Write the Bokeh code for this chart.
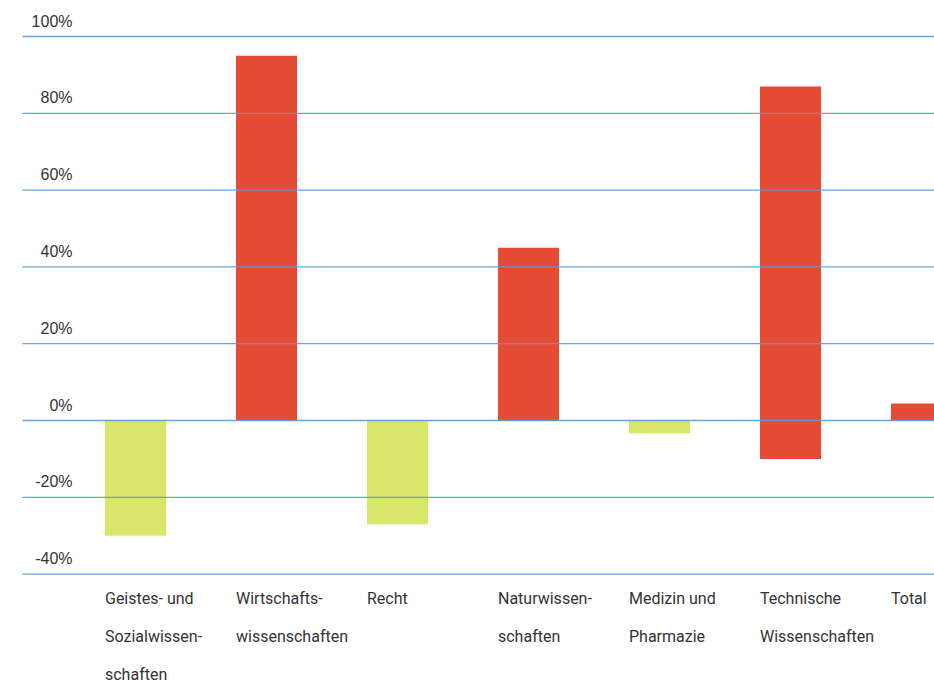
from bokeh.plotting import figure
from bokeh.models import ColumnDataSource, Range1d
from bokeh.core.properties import value
from bokeh.embed import file_html
from bokeh.resources import INLINE

# ---- data ----
categories = ["Geistes- und\nSozialwissen-\nschaften", "Wirtschafts-\nwissenschaften", "Recht",
              "Naturwissen-\nschaften", "Medizin und\nPharmazie", "Technische\nWissenschaften", "Total"]
bar_low = [-30, 0, -27, 0, -3.3, -10, 0]
bar_high = [0, 95, 0, 45, 0, 87, 4.4]
tick_values = [-40, -20, 0, 20, 40, 60, 80, 100]
tick_labels = ["-40%", "-20%", "0%", "20%", "40%", "60%", "80%", "100%"]

RED = "#e64b35"
GREEN = "#d8e76a"
GRID = "#5b9bd5"
TEXT = "#333333"

xs = list(range(len(categories)))
colors = [GREEN if h <= 0 else RED for l, h in zip(bar_low, bar_high)]

p = figure(width=934, height=684, output_backend="svg", toolbar_location=None,
           x_range=Range1d(-135 / 131, 799 / 131), y_range=Range1d(-68.75, 109.375),
           min_border=0, min_border_left=0, min_border_right=0, min_border_top=0, min_border_bottom=0)
p.axis.visible = False
p.grid.visible = False
p.outline_line_color = None
p.background_fill_color = "white"
p.border_fill_color = "white"

src = ColumnDataSource(dict(x=xs, low=bar_low, high=bar_high, color=colors))
p.vbar(x="x", bottom="low", top="high", width=0.466, fill_color="color", line_color=None, source=src)

# gridlines (drawn over bars)
x0 = -113 / 131
x1 = 800 / 131
p.segment(x0=[x0] * len(tick_values), x1=[x1] * len(tick_values), y0=tick_values, y1=tick_values,
          line_color=GRID, line_width=1.3, line_alpha=0.9)

# tick labels above gridlines, right-aligned
p.text(x=[-63 / 131] * len(tick_values), y=[t + 1.8 for t in tick_values], text=tick_labels,
       text_align="right", text_baseline="bottom", text_font=value("Liberation Sans"),
       text_font_size="16px", text_color=TEXT)

# category labels left-aligned at bar left edge
p.text(x=[x - 0.233 for x in xs], y=[-44.0] * len(xs), text=categories,
       text_align="left", text_baseline="top", text_font=value("Roboto"),
       text_font_size="16px", text_color=TEXT, text_line_height=2.0)

open("out.html", "w").write(file_html(p, INLINE))
